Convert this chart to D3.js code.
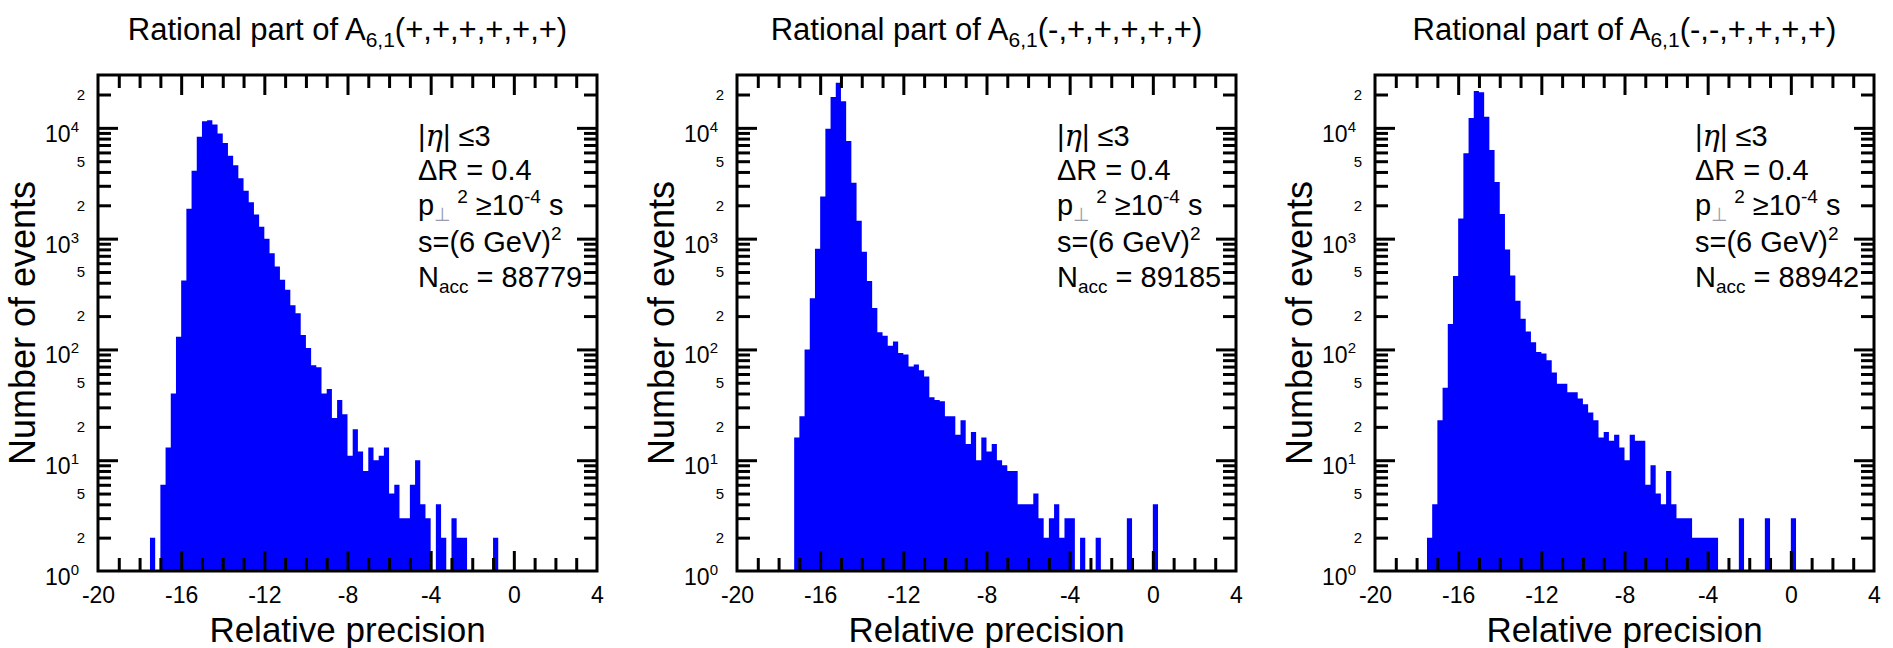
<!DOCTYPE html>
<html>
<head>
<meta charset="utf-8">
<script src="https://cdn.jsdelivr.net/npm/d3@7"></script>
<style>
  body { margin: 0; background: #fff; }
  text { font-family: "Liberation Sans", Arial, sans-serif; fill: #000; }
</style>
</head>
<body>
<div id="chart"></div>
<script>
// histogram binning (relative precision, log10)
const binWidth = 0.25;

const helicities = ["(+,+,+,+,+,+)", "(-,+,+,+,+,+)", "(-,-,+,+,+,+)"];
const nAcc = ["88779", "89185", "88942"];

const xTicks = [-20, -16, -12, -8, -4, 0, 4];
const yDecades = [1, 10, 100, 1000, 10000];
const yMinorLabels = [2, 5];

// counts per bin, first bin starts at start1/start2/start3
const start1 = -17.5;
const counts1 = [2, 0, 6, 13, 40, 130, 420, 1860, 4100, 8300, 11500, 11700, 10700, 8900, 7300, 5600,
  4600, 3500, 2700, 2130, 1650, 1280, 1000, 740, 560, 425, 345, 250, 212, 135, 103, 72, 69, 40,
  44, 24, 35, 26, 11, 19, 12, 8, 13, 10, 11, 13, 5, 6, 3, 3, 6, 10, 4, 3, 0, 4, 2, 0, 3, 2, 2,
  0, 0, 0, 0, 0, 2];

const start2 = -17.25;
const counts2 = [16, 25, 100, 290, 810, 2400, 9800, 19000, 25500, 17400, 7600, 3200, 1450, 760, 415,
  237, 143, 133, 108, 118, 93, 90, 70, 73, 65, 57, 37, 35, 34, 25, 25, 17, 23, 14, 18, 10, 16, 12, 14,
  10, 9, 8, 8, 4, 4, 4, 5, 3, 2, 3, 4, 2, 3, 3, 0, 2, 0, 0, 2, 0, 0, 0, 0, 0, 3, 0, 0, 0, 0, 4];

const start3 = -17.5;
const counts3 = [2, 4, 23, 45, 170, 460, 1520, 5900, 12300, 21500, 21000, 12600, 6300, 3250, 1670, 800,
  465, 275, 189, 145, 116, 95, 92, 80, 62, 49, 49, 41, 41, 36, 32, 27, 23, 16, 18, 15, 17, 13, 10,
  17, 15, 15, 6, 9, 5, 4, 8, 4, 3, 3, 3, 2, 2, 2, 2, 2, 0, 0, 0, 0, 3, 0, 0, 0, 0, 3, 0, 0, 0, 0, 3];

const panels = [
  { start: start1, counts: counts1 },
  { start: start2, counts: counts2 },
  { start: start3, counts: counts3 }
];

const W = 1893, H = 648;
const panelLeft = [98, 737, 1375];
const pw = 499, plotTop = 75, plotBottom = 571;

const svg = d3.select("#chart").append("svg")
  .attr("width", W)
  .attr("height", H);

const x = d3.scaleLinear().domain([-20, 4]).range([0, pw]);
const y = d3.scaleLog().domain([1, 3e4]).range([plotBottom, plotTop]);

// tick positions
const xMajor = xTicks.slice(1, -1);
const xMinor = d3.range(-19, 4).filter(v => v % 4 !== 0);
const yMajor = yDecades.slice(1);
const yMinor = [];
yDecades.forEach(d => d3.range(2, 10).forEach(m => { if (m * d < 3e4) yMinor.push(m * d); }));

function styleTicks(sel) {
  sel.select(".domain").remove();
  sel.selectAll("line").attr("stroke", "#000").attr("stroke-width", 3);
}

panels.forEach((p, i) => {
  const g = svg.append("g").attr("transform", `translate(${panelLeft[i]},0)`);

  // histogram
  const bins = p.counts.map((c, k) => ({ lo: p.start + k * binWidth, c }));
  bins.push({ lo: p.start + p.counts.length * binWidth, c: 0 });
  const area = d3.area()
    .curve(d3.curveStepAfter)
    .x(d => x(d.lo))
    .y0(y(1))
    .y1(d => d.c > 0 ? y(d.c) : y(1));
  g.append("path").datum(bins).attr("d", area).attr("fill", "#0000ff");

  // ticks, all pointing inward
  g.append("g").attr("transform", `translate(0,${plotBottom})`)
    .call(d3.axisBottom(x).tickValues(xMinor).tickSize(-13).tickFormat(""))
    .call(styleTicks);
  g.append("g").attr("transform", `translate(0,${plotBottom})`)
    .call(d3.axisBottom(x).tickValues(xTicks).tickSize(-20).tickPadding(16).tickFormat(d => String(d)))
    .call(styleTicks)
    .call(s => s.selectAll("text").style("font-size", "23px").attr("fill", "#000"))
    .call(s => s.selectAll("line").filter(d => d === -20 || d === 4).remove());
  g.append("g").attr("transform", `translate(0,${plotTop})`)
    .call(d3.axisTop(x).tickValues(xMinor).tickSize(-13).tickFormat(""))
    .call(styleTicks);
  g.append("g").attr("transform", `translate(0,${plotTop})`)
    .call(d3.axisTop(x).tickValues(xMajor).tickSize(-20).tickFormat(""))
    .call(styleTicks);

  [0, pw].forEach(xx => {
    const dir = xx === 0 ? d3.axisLeft : d3.axisRight;
    g.append("g").attr("transform", `translate(${xx},0)`)
      .call(dir(y).tickValues(yMinor).tickSize(-13).tickFormat(""))
      .call(styleTicks);
    g.append("g").attr("transform", `translate(${xx},0)`)
      .call(dir(y).tickValues(yMajor).tickSize(-20).tickFormat(""))
      .call(styleTicks);
  });

  // frame
  g.append("rect")
    .attr("x", 0).attr("y", plotTop)
    .attr("width", pw).attr("height", plotBottom - plotTop)
    .attr("fill", "none").attr("stroke", "#000").attr("stroke-width", 3);

  // y labels: decades with superscripts
  yDecades.forEach((v, k) => {
    const t = g.append("text")
      .attr("x", -19).attr("y", y(v) + 14)
      .attr("text-anchor", "end")
      .style("font-size", "23px");
    t.append("tspan").text("10");
    t.append("tspan").attr("dy", -10).style("font-size", "15px").text(k);
  });
  yDecades.forEach(d => yMinorLabels.forEach(m => {
    if (m * d >= 3e4) return;
    g.append("text")
      .attr("x", -13).attr("y", y(m * d))
      .attr("dy", "0.36em")
      .attr("text-anchor", "end")
      .style("font-size", "15px")
      .text(m);
  }));

  // axis titles
  g.append("text")
    .attr("transform", `translate(-63,${(plotTop + plotBottom) / 2}) rotate(-90)`)
    .attr("text-anchor", "middle")
    .style("font-size", "36px")
    .text("Number of events");
  g.append("text")
    .attr("x", pw / 2).attr("y", 642)
    .attr("text-anchor", "middle")
    .style("font-size", "35px")
    .text("Relative precision");

  // panel title
  const title = g.append("text")
    .attr("x", pw / 2).attr("y", 40)
    .attr("text-anchor", "middle")
    .style("font-size", "31px");
  title.append("tspan").text("Rational part of A");
  title.append("tspan").attr("dy", 7).style("font-size", "21px").text("6,1");
  title.append("tspan").attr("dy", -7).text(helicities[i]);

  // cuts annotation
  const ax = 320;
  const fs = "29px", fsSmall = "19px";
  const l1 = g.append("text").attr("x", ax).attr("y", 146).style("font-size", fs);
  l1.append("tspan").text("|");
  l1.append("tspan").style("font-family", "'DejaVu Serif', serif").style("font-style", "italic").text("η");
  l1.append("tspan").text("| ≤3");

  g.append("text").attr("x", ax).attr("y", 180).style("font-size", fs).text("ΔR = 0.4");

  const l3 = g.append("text").attr("x", ax).attr("y", 215).style("font-size", fs);
  l3.append("tspan").text("p");
  l3.append("tspan").attr("dy", 6).style("font-size", fsSmall).attr("fill", "#9a9ab0").text("⊥");
  l3.append("tspan").attr("dy", -18).attr("dx", 6).style("font-size", fsSmall).text("2");
  l3.append("tspan").attr("dy", 12).text(" ≥10");
  l3.append("tspan").attr("dy", -12).style("font-size", fsSmall).text("-4");
  l3.append("tspan").attr("dy", 12).text(" s");

  const l4 = g.append("text").attr("x", ax).attr("y", 252).style("font-size", fs);
  l4.append("tspan").text("s=(6 GeV)");
  l4.append("tspan").attr("dy", -12).style("font-size", fsSmall).text("2");

  const l5 = g.append("text").attr("x", ax).attr("y", 287).style("font-size", fs);
  l5.append("tspan").text("N");
  l5.append("tspan").attr("dy", 6).style("font-size", fsSmall).text("acc");
  l5.append("tspan").attr("dy", -6).text(" = " + nAcc[i]);
});
</script>
</body>
</html>
